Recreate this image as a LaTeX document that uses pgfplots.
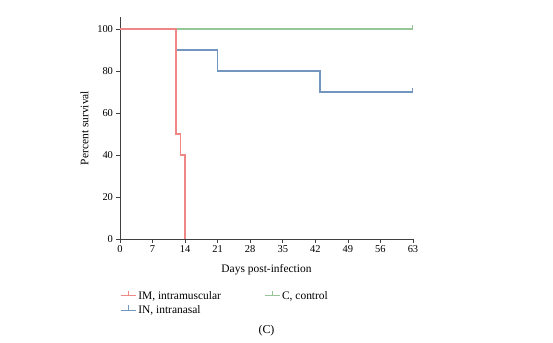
\documentclass[border=0pt]{standalone}
\usepackage{pgfplots}
\pgfplotsset{compat=1.18}
\usepackage{fontspec}
\setmainfont{Liberation Serif}
\definecolor{imred}{RGB}{240,135,135}
\definecolor{inblue}{RGB}{115,150,190}
\definecolor{cgreen}{RGB}{150,198,150}
\pgfdeclareplotmark{cens}{\pgfpathmoveto{\pgfpoint{0pt}{0pt}}\pgfpathlineto{\pgfpoint{0pt}{\pgfplotmarksize}}\pgfusepathqstroke}
\begin{document}
\begin{tikzpicture}[x=1bp,y=1bp]
\useasboundingbox (-120bp,-104bp) rectangle (433bp,239bp);
\begin{axis}[
  at={(0,0)}, anchor=origin,
  scale only axis, width=293bp, height=222bp,
  xmin=0, xmax=63, ymin=0, ymax=105.7,
  axis x line*=bottom, axis y line*=left,
  axis line style={black!75, line width=0.8pt},
  xtick={0,7,14,21,28,35,42,49,56,63},
  ytick={0,20,40,60,80,100},
  tick align=outside, major tick length=3.5bp,
  tick style={black!75, line width=0.7pt},
  /pgf/number format/assume math mode=true,
  ticklabel style={font=\fontsize{10.5}{11}\selectfont},
  xlabel={Days post-infection}, ylabel={Percent survival},
  label style={font=\fontsize{11.5}{12}\selectfont},
  xlabel style={yshift=-5bp},
  ylabel style={yshift=2bp},
  clip=false,
  legend columns=2,
  legend style={at={(0,-0.225)}, anchor=north west, draw=none, fill=none,
    font=\fontsize{11.5}{12}\selectfont, row sep=1bp, inner sep=0pt,
    /tikz/every even column/.append style={column sep=41bp}},
  legend cell align=left,
  legend image code/.code={\draw[#1] (0bp,0bp)--(15bp,0bp); \draw[#1] (7.5bp,0bp)--(7.5bp,5bp);},
]
\addlegendimage{draw=imred, line width=1.1pt}
\addlegendentry{IM, intramuscular}
\addlegendimage{draw=cgreen, line width=1.1pt}
\addlegendentry{C, control}
\addlegendimage{draw=inblue, line width=1.1pt}
\addlegendentry{IN, intranasal}
\addplot[draw=cgreen, line width=1.4pt, forget plot, mark=cens, mark size=4bp, mark indices={2}, mark options={draw=cgreen, line width=1pt}] coordinates {(12,100) (63,100)};
\addplot[draw=inblue, line width=1.4pt, forget plot, mark=cens, mark size=4bp, mark indices={7}, mark options={draw=inblue, line width=1pt}] coordinates {(12,100) (12,90) (21,90) (21,80) (43,80) (43,70) (63,70)};
\addplot[draw=imred, line width=1.4pt, forget plot] coordinates {(0,100) (12,100) (12,50) (13,50) (13,40) (14,40) (14,0)};
\node[font=\fontsize{12}{13}\selectfont] at (axis cs:31.5,0) [yshift=-92bp] {(C)};
\end{axis}
\end{tikzpicture}
\end{document}
